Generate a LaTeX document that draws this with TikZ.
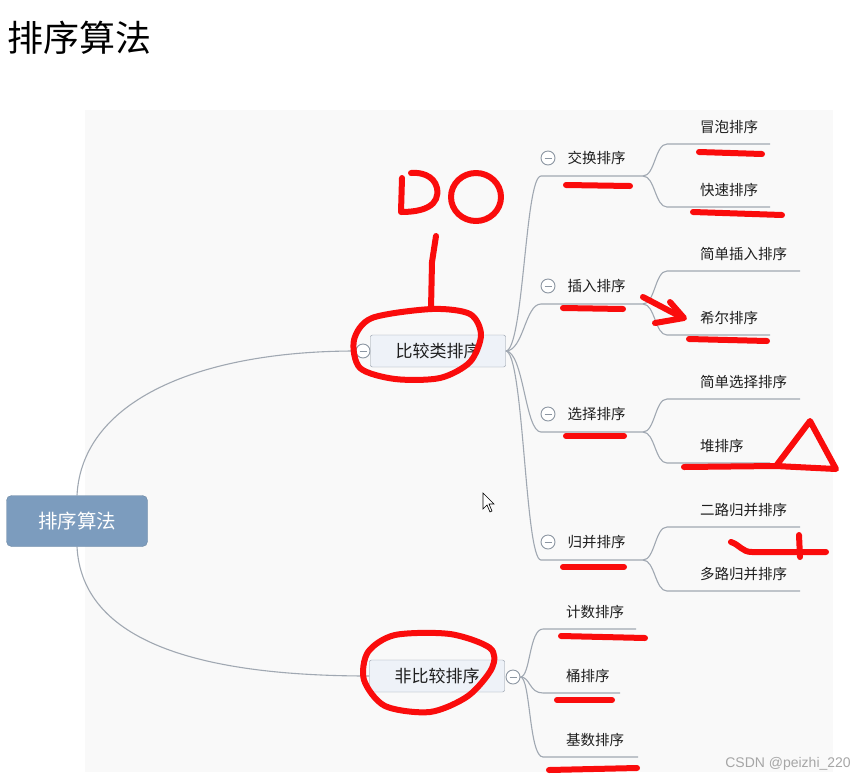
\documentclass[tikz,border=0pt]{standalone}
\usepackage{fontspec}
\newfontfamily\cjk{Noto Sans CJK SC}
\setsansfont{Liberation Sans}
\usetikzlibrary{positioning, backgrounds}
\definecolor{MapLine}{RGB}{160,168,178}
\definecolor{MapRoot}{RGB}{124,156,190}
\definecolor{MapBox}{RGB}{238,242,248}
\definecolor{MapEdge}{RGB}{140,150,162}
\definecolor{MapText}{RGB}{30,30,30}
\definecolor{InkRed}{RGB}{250,12,12}
\definecolor{PanelGray}{RGB}{249,249,249}
\begin{document}
\begin{tikzpicture}[x=1pt, y=-1pt,
    root/.style={rectangle, rounded corners=5pt, fill=MapRoot,
                 draw=MapRoot!85!black, minimum width=141pt, minimum height=51pt,
                 font=\cjk\fontsize{19.5}{20}\selectfont, text=white},
    branch/.style={rectangle, rounded corners=2pt, fill=MapBox, draw=MapEdge,
                   minimum width=135pt, minimum height=32pt,
                   font=\cjk\fontsize{17}{17}\selectfont, text=MapText},
    item/.style={font=\cjk\fontsize{14.5}{15}\selectfont, text=MapText,
                 inner sep=0pt, anchor=west},
    fold/.style={circle, draw=MapEdge, fill=white, minimum size=14pt,
                 inner sep=0pt, line width=0.9pt,
                 path picture={\draw[MapEdge, line width=1pt]
                   ([xshift=-3.5pt]path picture bounding box.center) --
                   ([xshift=3.5pt]path picture bounding box.center);}},
    link/.style={draw=MapLine, line width=1.1pt},
    ink/.style={draw=InkRed, line width=6pt, line cap=round, line join=round}
  ]
  \useasboundingbox (0,0) rectangle (854,780);
  \begin{scope}[on background layer]
    \fill[PanelGray] (85,110) rectangle (833,772);
  \end{scope}

  % Title
  \node[font=\cjk\fontsize{36}{36}\selectfont, anchor=west, inner sep=0pt]
       (title) at (7,38) {排序算法};

  % Root and the two branches
  \node[root] (root) at (77,521) {排序算法};
  \node[fold] (cmp-f) at (363,351) {};
  \node[branch] (cmp) at (438,351) {比较类排序};
  \node[branch] (ncmp) at (437,676) {非比较排序};
  \node[fold] (ncmp-f) at (513,677) {};
  \begin{scope}[on background layer]
    \draw[link] (root.north) .. controls (82,400) and (200,351) .. (cmp-f.west);
    \draw[link] (root.south) .. controls (82,642) and (200,676) .. (ncmp.west);
  \end{scope}

  % Comparison sorts
  \foreach \n/\t/\y in {jh/交换排序/158, cr/插入排序/286,
                        xz/选择排序/414, gb/归并排序/542} {
    \node[fold] (\n-f) at (548,\y) {};
    \node[item, right=12pt of \n-f] (\n) {\t};
    \coordinate (\n-a) at (541,\y+18);
    \coordinate (\n-b) at (643,\y+18);
    \begin{scope}[on background layer]
      \draw[link] (cmp.east) .. controls +(18,0) and +(-16,0) .. (\n-a) -- (\n-b);
    \end{scope}
  }
  \foreach \p/\t/\y/\e in {jh/冒泡排序/127/770, jh/快速排序/190/770,
                           cr/简单插入排序/254/800, cr/希尔排序/318/770,
                           xz/简单选择排序/382/800, xz/堆排序/446/770,
                           gb/二路归并排序/510/800, gb/多路归并排序/574/800} {
    \node[item] (\p\y) at (700,\y) {\t};
    \coordinate (\p\y-a) at (667,\y+17);
    \coordinate (\p\y-b) at (\e,\y+17);
    \begin{scope}[on background layer]
      \draw[link] (\p-b) .. controls +(12,0) and +(-12,0) .. (\p\y-a) -- (\p\y-b);
    \end{scope}
  }

  % Non-comparison sorts
  \foreach \n/\t/\y/\e in {js/计数排序/612/636, tp/桶排序/676/620,
                           ks/基数排序/740/638} {
    \node[item] (\n) at (566,\y) {\t};
    \coordinate (\n-a) at (543,\y+17);
    \coordinate (\n-b) at (\e,\y+17);
    \begin{scope}[on background layer]
      \draw[link] (ncmp-f.east) .. controls +(10,0) and +(-14,0) .. (\n-a) -- (\n-b);
    \end{scope}
  }

  % Watermark
  \node[font=\sffamily\fontsize{14}{14}\selectfont, text=black!35, anchor=east,
        inner sep=0pt] (mark) at (851,764) {CSDN @peizhi\_220};

  % Mouse pointer
  \draw[fill=white, line width=0.6pt] (483,493) -- (483,509) -- (487,505)
       -- (490,512) -- (492,511) -- (489,504) -- (494,504) -- cycle;

  % Hand-drawn red marks
  \draw[ink] plot[smooth cycle] coordinates {(432,309) (470,314) (481,335)
       (470,362) (440,378) (395,379) (360,368) (354,340) (372,318)};
  \draw[ink] plot[smooth cycle] coordinates {(395,635) (450,634) (490,648)
       (492,668) (468,696) (430,712) (385,706) (364,680) (368,652)};
  \draw[ink] (402,178) -- (401,212) .. controls (425,212) and (440,205) .. (437,188)
       .. controls (434,175) and (420,172) .. (411,173);
  \draw[ink] (476,197) ellipse [x radius=25pt, y radius=24pt];
  \draw[ink] (436,236) -- (432,262) -- (431,309);
  \draw[ink] (566,185) -- (630,186);
  \draw[ink] (699,152) -- (762,154);
  \draw[ink] (693,212) -- (782,215);
  \draw[ink] (563,308) -- (623,309);
  \draw[ink] (643,297) -- (683,318);
  \draw[ink] (670,302) -- (684,318) -- (655,323);
  \draw[ink] (689,339) -- (767,341);
  \draw[ink] (566,436) -- (624,436);
  \draw[ink] (684,467) -- (776,466) -- (810,421) -- (836,469) -- (776,466);
  \draw[ink] (563,567) -- (624,567);
  \draw[ink] (731,542) .. controls (740,545) and (742,552) .. (752,552) -- (826,552);
  \draw[ink] (799,535) -- (800,557);
  \draw[ink] (561,636) -- (645,638);
  \draw[ink] (557,700) -- (612,700);
  \draw[ink] (549,770) -- (637,768);
\end{tikzpicture}
\end{document}
